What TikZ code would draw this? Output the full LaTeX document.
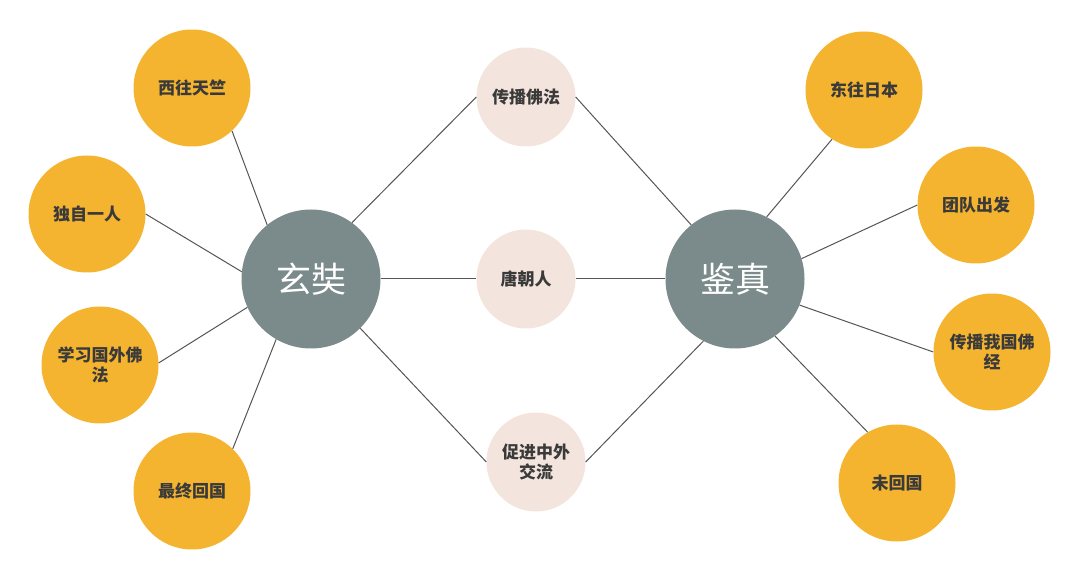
\documentclass[tikz,border=0pt]{standalone}
\usepackage{fontspec}
\setmainfont{Noto Sans CJK SC}
\usetikzlibrary{positioning}
\definecolor{leaforange}{HTML}{F5B430}
\definecolor{hubgray}{HTML}{7B8A8A}
\definecolor{linkbeige}{HTML}{F3E5DD}
\definecolor{textdark}{HTML}{3A3A3A}
\definecolor{edgegray}{HTML}{555555}

\begin{document}
\begin{tikzpicture}[
				x=1pt, y=-1pt,
				hub/.style={circle, fill=hubgray, minimum size=139pt, inner sep=0pt, text=white, font=\fontsize{35}{38}\selectfont},
				leaf/.style={circle, fill=leaforange, minimum size=117pt, inner sep=0pt, align=center, text=textdark, font=\fontsize{17}{20}\selectfont\bfseries},
				link/.style={circle, fill=linkbeige, minimum size=99pt, inner sep=0pt, align=center, text=textdark, font=\fontsize{17}{20}\selectfont\bfseries},
				edge/.style={draw=edgegray, line width=1pt}
			]
			\useasboundingbox (0,0) rectangle (1080,577);
			% hubs
			\node[hub] (xz) at (311,279) {玄奘};
			\node[hub] (jz) at (735,279) {鉴真};
			% shared points
			\node[link] (m1) at (526,97) {传播佛法};
			\node[link] (m2) at (526,279) {唐朝人};
			\node[link] (m3) at (536,462) {促进中外\\交流};
			% left leaves
			\node[leaf] (l1) at (192,88) {西往天竺};
			\node[leaf] (l2) at (87,214) {独自一人};
			\node[leaf] (l3) at (100,365) {学习国外佛\\法};
			\node[leaf] (l4) at (192,491) {最终回国};
			% right leaves
			\node[leaf] (r1) at (864,90) {东往日本};
			\node[leaf] (r2) at (976,205) {团队出发};
			\node[leaf] (r3) at (992,352) {传播我国佛\\经};
			\node[leaf] (r4) at (897,483) {未回国};
			% connectors
			\draw[edge] (l1.-47) -- (xz.129);
			\draw[edge] (l2.0) -- (xz.174);
			\draw[edge] (l3.2) -- (xz.204);
			\draw[edge] (l4.46) -- (xz.240);
			\draw[edge] (xz.54) -- (m1.180);
			\draw[edge] (xz.0) -- (m2.180);
			\draw[edge] (xz.-45) -- (m3.180);
			\draw[edge] (m1.0) -- (jz.129);
			\draw[edge] (m2.0) -- (jz.180);
			\draw[edge] (m3.0) -- (jz.243);
			\draw[edge] (jz.63) -- (r1.237);
			\draw[edge] (jz.17) -- (r2.180);
			\draw[edge] (jz.-22) -- (r3.180);
			\draw[edge] (jz.-55) -- (r4.120);
		\end{tikzpicture}
\end{document}
